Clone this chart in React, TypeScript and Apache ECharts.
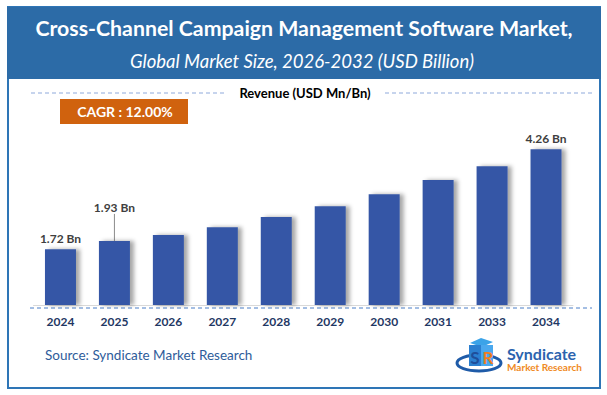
import React, { useEffect, useRef } from "react";
import * as echarts from "echarts";

const years = ["2024", "2025", "2026", "2027", "2028", "2029", "2030", "2031", "2033", "2034"];
const revenue = [1.72, 1.93, 2.08, 2.28, 2.54, 2.81, 3.12, 3.48, 3.83, 4.26];
const labeledIdx = [0, 1, 9];
const titleText = "Cross-Channel Campaign Management Software Market,";
const subtitleText = "Global Market Size, 2026-2032 (USD Billion)";
const cagrText = "CAGR : 12.00%";
const revenueText = "Revenue (USD Mn/Bn)";
const sourceText = "Source: Syndicate Market Research";

const FONT = "Lato, 'Open Sans', sans-serif";

export default function App() {
  const ref = useRef<HTMLDivElement>(null);
  useEffect(() => {
    if (!ref.current) return;
    const chart = echarts.init(ref.current, null, { renderer: "svg" });
    const data = revenue.map((v, i) => {
      const show = labeledIdx.includes(i);
      return {
        value: v,
        label: { show },
        labelLine: { show: i === 1, lineStyle: { color: "#8C8C8C", width: 1 } },
      };
    });
    chart.setOption({
      animation: false,
      backgroundColor: "#ffffff",
      grid: { left: 33.5, right: 34, top: 136, bottom: 90 },
      xAxis: {
        type: "category",
        data: years,
        axisTick: { show: false },
        axisLine: { show: true, lineStyle: { color: "#D9D9D9", width: 1 } },
        axisLabel: {
          margin: 10,
          color: "#1F3864",
          fontWeight: "bold",
          fontSize: 12,
          fontFamily: FONT,
        },
      },
      yAxis: { type: "value", min: 0.3, max: 4.6, show: false, splitLine: { show: false } },
      series: [
        {
          type: "bar",
          data,
          barWidth: 31,
          itemStyle: {
            color: "#3457A6",
            shadowColor: "rgba(0,0,0,0.35)",
            shadowBlur: 4,
            shadowOffsetX: 4,
            shadowOffsetY: 0,
          },
          label: {
            position: "top",
            distance: 5,
            formatter: (p: any) => p.value.toFixed(2) + " Bn",
            color: "#404040",
            fontWeight: "bold",
            fontSize: 12,
            fontFamily: FONT,
          },
          labelLayout: (p: any) => (p.dataIndex === 1 ? { dy: -22 } : {}),
        },
      ],
      graphic: [
        {
          type: "rect",
          shape: { x: 8, y: 7, width: 592, height: 381 },
          style: { fill: "none", stroke: "#2E75B6", lineWidth: 2 },
          z: 10,
        },
        {
          type: "rect",
          shape: { x: 7, y: 7, width: 594, height: 72 },
          style: { fill: "#2C6BA7" },
          z: 11,
        },
        {
          type: "text",
          x: 304,
          y: 28,
          style: {
            text: titleText,
            fill: "#ffffff",
            font: `bold 21.3px ${FONT}`,
            align: "center",
            verticalAlign: "middle",
          },
          z: 12,
        },
        {
          type: "text",
          x: 302,
          y: 61,
          style: {
            text: subtitleText,
            fill: "#ffffff",
            font: `italic 18.5px ${FONT}`,
            align: "center",
            verticalAlign: "middle",
          },
          z: 12,
        },
        {
          type: "line",
          shape: { x1: 31, y1: 93, x2: 225, y2: 93 },
          style: { stroke: "#8EA9DB", lineWidth: 1, lineDash: [4, 3] },
        },
        {
          type: "line",
          shape: { x1: 385, y1: 93, x2: 592, y2: 93 },
          style: { stroke: "#8EA9DB", lineWidth: 1, lineDash: [4, 3] },
        },
        {
          type: "text",
          x: 305,
          y: 93,
          style: {
            text: revenueText,
            fill: "#000000",
            font: `bold 13px ${FONT}`,
            align: "center",
            verticalAlign: "middle",
          },
        },
        {
          type: "rect",
          shape: { x: 60, y: 99, width: 128, height: 25 },
          style: { fill: "#D0620E" },
        },
        {
          type: "text",
          x: 125,
          y: 111.5,
          style: {
            text: cagrText,
            fill: "#ffffff",
            font: `bold 14px ${FONT}`,
            align: "center",
            verticalAlign: "middle",
          },
        },
        {
          type: "line",
          shape: { x1: 30, y1: 308, x2: 592, y2: 308 },
          style: { stroke: "#4A7FC8", lineWidth: 1, lineDash: [4, 3] },
        },
        {
          type: "text",
          x: 45,
          y: 355,
          style: {
            text: sourceText,
            fill: "#2E5C9A",
            font: `13.5px ${FONT}`,
            align: "left",
            verticalAlign: "middle",
          },
        },
        {
          type: "group",
          children: [
            {
              type: "ellipse",
              shape: { cx: 479, cy: 363, rx: 22, ry: 8 },
              style: { fill: "none", stroke: "#1F5BA8", lineWidth: 3 },
            },
            {
              type: "polygon",
              shape: { points: [[470, 343], [481, 338], [493, 342], [482, 347]] },
              style: { fill: "#3BA3E8" },
            },
            {
              type: "rect",
              shape: { x: 469, y: 345, width: 12, height: 21 },
              style: { fill: "#2B7FD0" },
            },
            {
              type: "rect",
              shape: { x: 481, y: 345, width: 12, height: 21 },
              style: { fill: "#4AA8EE" },
            },
            {
              type: "text",
              x: 475,
              y: 357,
              style: { text: "S", fill: "#1F4E9A", font: `bold 17px ${FONT}`, align: "center", verticalAlign: "middle" },
            },
            {
              type: "text",
              x: 488,
              y: 357,
              style: { text: "R", fill: "#F07F1E", font: `bold 17px ${FONT}`, align: "center", verticalAlign: "middle" },
            },
            {
              type: "text",
              x: 507,
              y: 353,
              style: { text: "Syndicate", fill: "#2B63AE", font: `bold 16px ${FONT}`, align: "left", verticalAlign: "middle" },
            },
            {
              type: "text",
              x: 507,
              y: 367,
              style: { text: "Market Research", fill: "#F08A24", font: `bold 10px ${FONT}`, align: "left", verticalAlign: "middle" },
            },
          ],
        },
      ],
    });
    return () => chart.dispose();
  }, []);
  return <div ref={ref} style={{ width: 607, height: 395, position: "absolute", left: 0, top: 0 }} />;
}
